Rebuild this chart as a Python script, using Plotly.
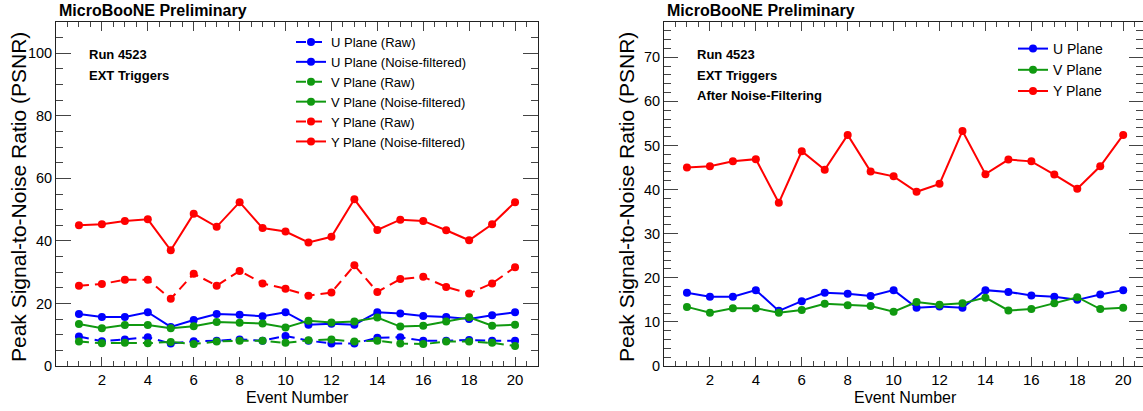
import plotly.graph_objects as go

# ---------------- data ----------------
events = list(range(1, 21))
u_raw = [9.4, 7.9, 8.5, 9.2, 7.2, 7.9, 8.1, 8.5, 8.1, 9.6, 8.1, 7.2, 7.2, 9.0, 9.2, 8.1, 8.1, 8.3, 8.1, 8.1]
v_raw = [7.8, 7.3, 7.4, 7.3, 7.7, 7.0, 7.8, 8.1, 8.1, 7.4, 8.2, 8.5, 7.8, 8.1, 7.2, 7.0, 7.8, 7.8, 7.4, 6.4]
y_raw = [25.7, 26.2, 27.6, 27.6, 21.5, 29.5, 25.7, 30.4, 26.4, 24.7, 22.5, 23.5, 32.2, 23.7, 27.8, 28.5, 25.3, 23.2, 26.4, 31.6]
u_nf = [16.6, 15.7, 15.7, 17.2, 12.5, 14.7, 16.6, 16.4, 15.9, 17.2, 13.2, 13.5, 13.2, 17.2, 16.8, 16.0, 15.7, 15.0, 16.2, 17.2]
v_nf = [13.4, 12.1, 13.1, 13.1, 12.1, 12.7, 14.1, 13.8, 13.6, 12.3, 14.5, 13.9, 14.2, 15.5, 12.6, 12.9, 14.2, 15.6, 12.9, 13.2]
y_nf = [45.0, 45.3, 46.4, 46.9, 37.0, 48.7, 44.5, 52.4, 44.1, 43.0, 39.5, 41.3, 53.3, 43.5, 46.8, 46.4, 43.4, 40.2, 45.3, 52.4]

x_ticks = [2, 4, 6, 8, 10, 12, 14, 16, 18, 20]

left_names = ["U Plane (Raw)", "U Plane (Noise-filtered)", "V Plane (Raw)",
              "V Plane (Noise-filtered)", "Y Plane (Raw)", "Y Plane (Noise-filtered)"]
right_names = ["U Plane", "V Plane", "Y Plane"]

BLUE, GREEN, RED = "#0000ff", "#109910", "#ff0000"
FONT = "Liberation Sans, Arial, sans-serif"
W, H = 1143, 411
DASH = "10px,6px"

fig = go.Figure()

left_series = [(u_raw, BLUE, DASH), (u_nf, BLUE, "solid"),
               (v_raw, GREEN, DASH), (v_nf, GREEN, "solid"),
               (y_raw, RED, DASH), (y_nf, RED, "solid")]
for name, (vals, col, dash) in zip(left_names, left_series):
    fig.add_trace(go.Scatter(x=events, y=vals, name=name, mode="lines+markers",
                             line=dict(color=col, width=2, dash=dash),
                             marker=dict(color=col, size=8),
                             xaxis="x", yaxis="y", legend="legend"))

for name, vals, col in zip(right_names, [u_nf, v_nf, y_nf], [BLUE, GREEN, RED]):
    fig.add_trace(go.Scatter(x=events, y=vals, name=name, mode="lines+markers",
                             line=dict(color=col, width=2),
                             marker=dict(color=col, size=8),
                             xaxis="x2", yaxis="y2", legend="legend2"))

def px_x(p):
    return p / W

def px_y(p):
    return 1 - p / H

ydom = [px_y(366), px_y(22)]

common = dict(showline=True, linecolor="#222", linewidth=1, mirror="ticks",
              ticks="inside", tickcolor="#444", showgrid=False, zeroline=False,
              automargin=False)
xfont = dict(family=FONT, size=15, color="black")
yfont = dict(family=FONT, size=14.5, color="black")

fig.update_layout(
    width=W, height=H,
    margin=dict(l=0, r=0, t=0, b=0, autoexpand=False),
    paper_bgcolor="white", plot_bgcolor="white",
    font=dict(family=FONT, color="black"),
    xaxis=dict(domain=[px_x(56), px_x(538)], range=[0, 21], anchor="y",
               tickmode="array", tickvals=x_ticks, ticklen=9, tickfont=xfont,
               minor=dict(dtick=0.5, tick0=0, ticklen=5, ticks="inside", tickcolor="#444"),
               **common),
    yaxis=dict(domain=ydom, range=[0, 110], anchor="x",
               tick0=0, dtick=20, ticklen=15, tickfont=yfont,
               minor=dict(dtick=5, ticklen=7, ticks="inside", tickcolor="#444"),
               **common),
    xaxis2=dict(domain=[px_x(664), 1.0], range=[0, (W - 664) / 22.96], anchor="y2",
                tickmode="array", tickvals=x_ticks, ticklen=9, tickfont=xfont,
                minor=dict(dtick=0.5, tick0=0, ticklen=5, ticks="inside", tickcolor="#444"),
                **common),
    yaxis2=dict(domain=ydom, range=[0, 78], anchor="x2",
                tick0=0, dtick=10, ticklen=14, tickfont=yfont,
                minor=dict(dtick=2, ticklen=7, ticks="inside", tickcolor="#444"),
                **common),
    legend=dict(x=px_x(291), y=px_y(27), xanchor="left", yanchor="top",
                font=dict(family=FONT, size=13, color="black"),
                bgcolor="rgba(0,0,0,0)"),
    legend2=dict(x=px_x(1013), y=px_y(33), xanchor="left", yanchor="top",
                 font=dict(family=FONT, size=14, color="black"),
                 bgcolor="rgba(0,0,0,0)"),
    showlegend=True,
)

ann = []
for x0 in (57, 665):
    ann.append(dict(text="<b>MicroBooNE Preliminary</b>", x=px_x(x0), y=px_y(11),
                    xref="paper", yref="paper", xanchor="left", yanchor="middle",
                    showarrow=False, font=dict(family=FONT, size=16, color="black")))
for xc in (18, 626):
    ann.append(dict(text="Peak Signal-to-Noise Ratio (PSNR)", x=px_x(xc), y=px_y(197),
                    xref="paper", yref="paper", xanchor="center", yanchor="middle",
                    textangle=-90, showarrow=False,
                    font=dict(family=FONT, size=21, color="black")))
for xc in (297, 905):
    ann.append(dict(text="Event Number", x=px_x(xc), y=px_y(397),
                    xref="paper", yref="paper", xanchor="center", yanchor="middle",
                    showarrow=False, font=dict(family=FONT, size=16, color="black")))
left_info = ["Run 4523", "EXT Triggers"]
right_info = ["Run 4523", "EXT Triggers", "After Noise-Filtering"]
for k, t in enumerate(left_info):
    ann.append(dict(text="<b>%s</b>" % t, x=px_x(87), y=px_y(55 + 20.5 * k),
                    xref="paper", yref="paper", xanchor="left", yanchor="middle",
                    showarrow=False, font=dict(family=FONT, size=13, color="black")))
for k, t in enumerate(right_info):
    ann.append(dict(text="<b>%s</b>" % t, x=px_x(695), y=px_y(55 + 20.5 * k),
                    xref="paper", yref="paper", xanchor="left", yanchor="middle",
                    showarrow=False, font=dict(family=FONT, size=13, color="black")))
fig.update_layout(annotations=ann)

fig.write_html("out.html")
